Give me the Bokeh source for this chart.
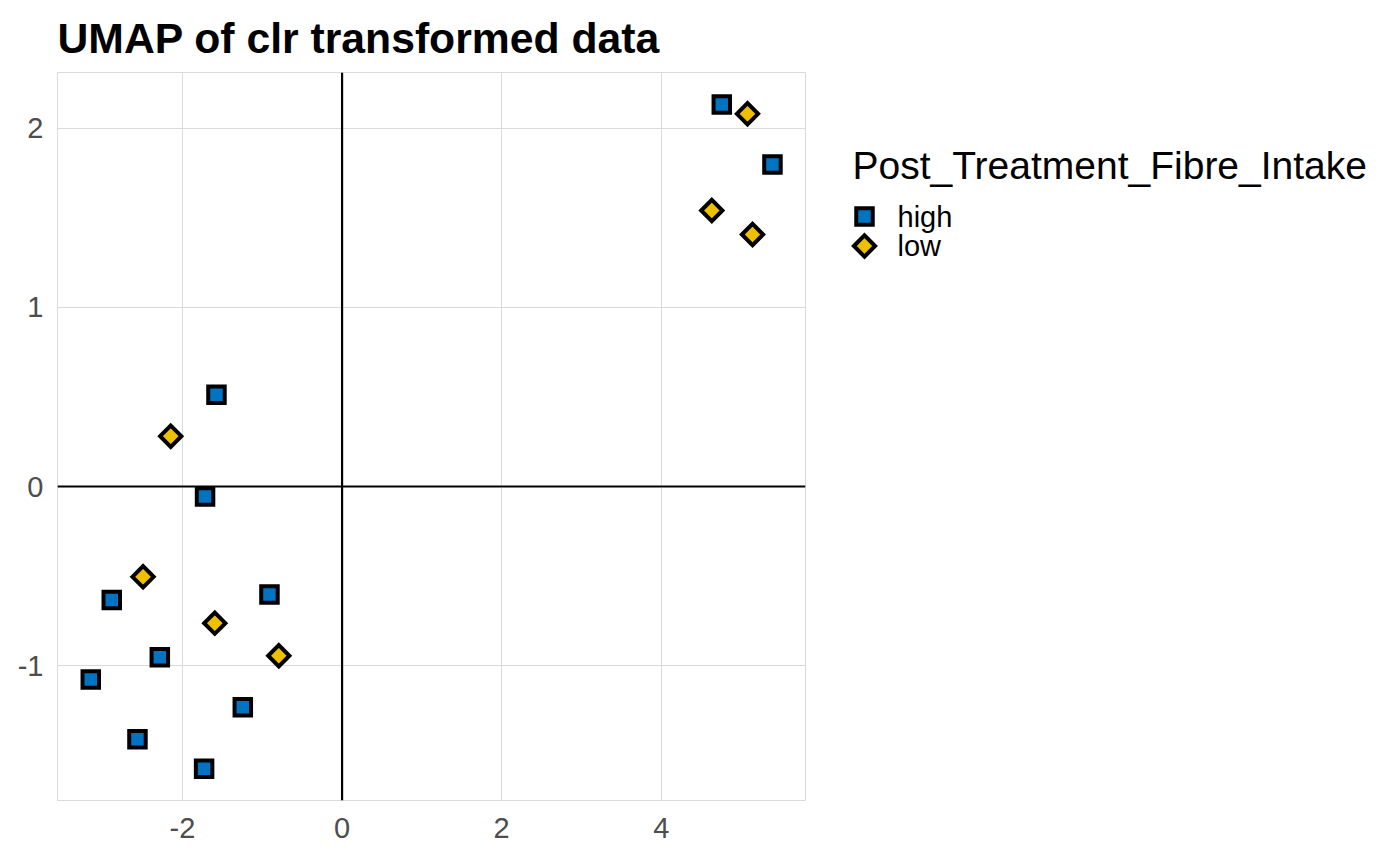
import math
from bokeh.plotting import figure
from bokeh.layouts import row
from bokeh.models import Range1d, FixedTicker, Span
from bokeh.core.properties import value
from bokeh.embed import file_html
from bokeh.resources import INLINE

# ---------------- data ----------------
title_text = "UMAP of clr transformed data"
legend_title = "Post_Treatment_Fibre_Intake"
groups = ["high", "low"]

high_x = [4.758, 5.393, -1.574, -1.717, -0.910, -2.886, -2.284, -3.149, -1.244, -2.564, -1.729]
high_y = [2.133, 1.798, 0.512, -0.056, -0.603, -0.633, -0.953, -1.077, -1.232, -1.411, -1.576]

low_x = [5.080, 4.633, 5.143, -2.147, -2.494, -1.595, -0.793]
low_y = [2.081, 1.541, 1.407, 0.281, -0.504, -0.763, -0.945]

x_ticks = [-2, 0, 2, 4]
y_ticks = [-1, 0, 1, 2]

# ---------------- style ----------------
FONT = "Liberation Sans"
BLUE = "#0073C2"
YELLOW = "#EFC000"
GRID = "#DADADA"
SQ_SIZE = 16.5
DIA_SIZE = 15
LW = 4

FR_L, FR_T, FR_R, FR_B = 57, 72, 805, 800   # frame edges (page px)
P_W, H = 813, 852
Q_W = 579

p = figure(width=P_W, height=H,
           x_range=Range1d(-3.566, 5.807), y_range=Range1d(-1.753, 2.3116),
           output_backend="svg", toolbar_location=None,
           min_border_left=FR_L, min_border_right=P_W - FR_R,
           min_border_top=FR_T, min_border_bottom=H - FR_B,
           title=title_text)
p.title.text_font = FONT
p.title.text_font_size = "42.7px"
p.title.text_font_style = "bold"
p.title.text_color = "black"
p.title.offset = 0
p.title.standoff = 22

p.background_fill_color = "white"
p.border_fill_color = "white"
p.outline_line_color = GRID
p.outline_line_width = 1

p.xaxis.ticker = FixedTicker(ticks=x_ticks)
p.yaxis.ticker = FixedTicker(ticks=y_ticks)
p.xgrid.ticker = FixedTicker(ticks=x_ticks)
p.ygrid.ticker = FixedTicker(ticks=y_ticks)
p.xaxis.major_label_overrides = {t: str(t) for t in x_ticks}
p.yaxis.major_label_overrides = {t: str(t) for t in y_ticks}
p.grid.grid_line_color = GRID
p.grid.grid_line_width = 1
p.grid.minor_grid_line_color = None

p.axis.axis_line_color = None
p.axis.major_tick_line_color = None
p.axis.minor_tick_line_color = None
p.axis.major_tick_out = 0
p.axis.major_tick_in = 0
p.axis.major_label_text_font = FONT
p.axis.major_label_text_font_size = "29px"
p.axis.major_label_text_color = "#4D4D4D"
p.xaxis.major_label_standoff = 17
p.yaxis.major_label_standoff = 14

p.add_layout(Span(location=0, dimension="height", line_color="black", line_width=2.2))
p.add_layout(Span(location=0, dimension="width", line_color="black", line_width=2.2))

p.scatter(high_x, high_y, marker="square", size=SQ_SIZE, fill_color=BLUE,
          line_color="black", line_width=LW, line_join="miter")
p.scatter(low_x, low_y, marker="square", angle=math.pi / 4, size=DIA_SIZE, fill_color=YELLOW,
          line_color="black", line_width=LW, line_join="miter")

# ---------------- legend panel (page-pixel coordinates) ----------------
q = figure(width=Q_W, height=H,
           x_range=Range1d(P_W, P_W + Q_W), y_range=Range1d(FR_B, FR_T),
           output_backend="svg", toolbar_location=None,
           min_border_left=0, min_border_right=0,
           min_border_top=FR_T, min_border_bottom=H - FR_B,
           x_axis_type=None, y_axis_type=None)
q.grid.visible = False
q.outline_line_color = None
q.background_fill_color = "white"
q.border_fill_color = "white"

title_x, title_y = 852, 165
key_x, text_x, row0, step = 864, 897, 216, 29.5
rows_y = [row0 + i * step for i in range(len(groups))]

q.text(x=[title_x], y=[title_y], text=[legend_title], text_font=value(FONT),
       text_font_size="39px", text_baseline="middle", text_color="black")
q.scatter([key_x], [rows_y[0]], marker="square", size=SQ_SIZE, fill_color=BLUE,
          line_color="black", line_width=LW, line_join="miter")
q.scatter([key_x], [rows_y[1]], marker="square", angle=math.pi / 4, size=DIA_SIZE,
          fill_color=YELLOW, line_color="black", line_width=LW, line_join="miter")
q.text(x=[text_x] * len(groups), y=rows_y, text=groups, text_font=value(FONT),
       text_font_size="29px", text_baseline="middle", text_color="black")

layout = row(p, q)
open("out.html", "w").write(file_html(layout, INLINE))
